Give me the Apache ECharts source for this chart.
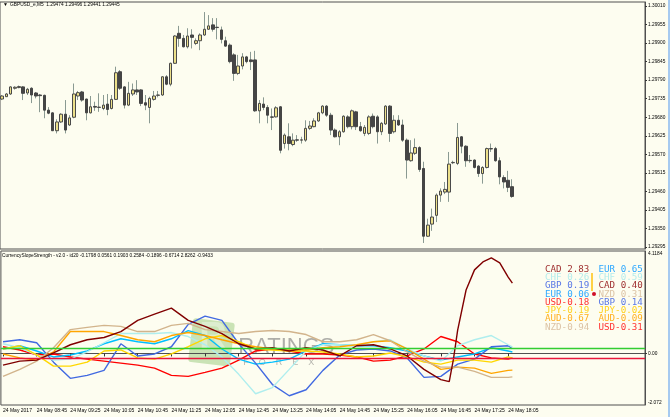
<!DOCTYPE html>
<html><head><meta charset="utf-8">
<script src="https://cdn.jsdelivr.net/npm/echarts@6/dist/echarts.min.js"></script>
<style>html,body{margin:0;padding:0;background:#fdfdf0;}#c{width:670px;height:417px;}</style>
</head><body><div id="c"></div>
<script>
const symbolName = 'GBPUSD_e,M5';
const open = [1.29734,1.29741,1.29749,1.29766,1.29768,1.29770,1.29752,1.29766,1.29752,1.29746,
1.29745,1.29701,1.29693,1.29640,1.29666,1.29689,1.29657,1.29680,1.29743,1.29755,
1.29734,1.29693,1.29712,1.29709,1.29706,1.29719,1.29706,1.29733,1.29815,1.29770,
1.29716,1.29749,1.29761,1.29761,1.29723,1.29709,1.29733,1.29745,1.29746,1.29800,
1.29778,1.29840,1.29929,1.29914,1.29889,1.29924,1.29899,1.29907,1.29924,1.29941,
1.29954,1.29947,1.29939,1.29907,1.29894,1.29865,1.29810,1.29832,1.29859,1.29850,
1.29850,1.29699,1.29719,1.29709,1.29681,1.29681,1.29711,1.29602,1.29622,1.29599,
1.29613,1.29612,1.29612,1.29647,1.29652,1.29669,1.29693,1.29713,1.29686,1.29642,
1.29622,1.29637,1.29681,1.29652,1.29696,1.29652,1.29632,1.29632,1.29683,1.29681,
1.29637,1.29660,1.29713,1.29637,1.29671,1.29657,1.29612,1.29551,1.29573,1.29590,
1.29528,1.29327,1.29363,1.29389,1.29449,1.29458,1.29458,1.29545,1.29543,1.29622,
1.29594,1.29551,1.29553,1.29535,1.29513,1.29531,1.29587,1.29587,1.29551,1.29501,
1.29493,1.29474];
const close = [1.29743,1.29749,1.29770,1.29769,1.29771,1.29751,1.29763,1.29746,1.29743,1.29744,
1.29701,1.29692,1.29640,1.29666,1.29689,1.29642,1.29678,1.29749,1.29753,1.29731,
1.29693,1.29711,1.29710,1.29710,1.29716,1.29703,1.29733,1.29812,1.29766,1.29716,
1.29751,1.29761,1.29755,1.29721,1.29716,1.29736,1.29743,1.29746,1.29800,1.29778,
1.29840,1.29921,1.29914,1.29889,1.29921,1.29917,1.29907,1.29924,1.29941,1.29951,
1.29941,1.29946,1.29911,1.29891,1.29845,1.29810,1.29832,1.29859,1.29845,1.29845,
1.29699,1.29721,1.29709,1.29686,1.29680,1.29708,1.29582,1.29627,1.29602,1.29612,
1.29612,1.29613,1.29647,1.29654,1.29669,1.29693,1.29713,1.29686,1.29642,1.29622,
1.29637,1.29683,1.29652,1.29699,1.29652,1.29640,1.29650,1.29681,1.29652,1.29637,
1.29662,1.29713,1.29632,1.29671,1.29657,1.29612,1.29553,1.29574,1.29590,1.29525,
1.29327,1.29360,1.29384,1.29449,1.29461,1.29466,1.29541,1.29546,1.29620,1.29594,
1.29551,1.29552,1.29531,1.29513,1.29531,1.29587,1.29586,1.29551,1.29503,1.29488,
1.29472,1.29445];
const low = [1.29731,1.29740,1.29746,1.29762,1.29766,1.29731,1.29746,1.29722,1.29736,1.29695,
1.29677,1.29689,1.29639,1.29632,1.29663,1.29632,1.29654,1.29677,1.29731,1.29726,
1.29671,1.29691,1.29699,1.29696,1.29701,1.29686,1.29703,1.29731,1.29761,1.29706,
1.29713,1.29743,1.29746,1.29713,1.29701,1.29662,1.29729,1.29739,1.29743,1.29775,
1.29772,1.29838,1.29889,1.29887,1.29884,1.29884,1.29894,1.29879,1.29921,1.29939,
1.29934,1.29911,1.29899,1.29889,1.29840,1.29788,1.29805,1.29822,1.29840,1.29820,
1.29696,1.29662,1.29701,1.29662,1.29642,1.29679,1.29573,1.29587,1.29582,1.29594,
1.29607,1.29602,1.29607,1.29642,1.29650,1.29666,1.29689,1.29681,1.29627,1.29620,
1.29597,1.29634,1.29647,1.29644,1.29642,1.29637,1.29624,1.29627,1.29647,1.29602,
1.29627,1.29657,1.29607,1.29632,1.29654,1.29607,1.29498,1.29548,1.29568,1.29518,
1.29307,1.29325,1.29343,1.29369,1.29429,1.29452,1.29429,1.29541,1.29538,1.29573,
1.29533,1.29545,1.29528,1.29503,1.29483,1.29528,1.29577,1.29548,1.29481,1.29469,
1.29458,1.29441];
const high = [1.29746,1.29752,1.29772,1.29772,1.29774,1.29772,1.29767,1.29769,1.29755,1.29749,
1.29747,1.29710,1.29695,1.29674,1.29692,1.29731,1.29686,1.29780,1.29758,1.29758,
1.29735,1.29743,1.29726,1.29751,1.29746,1.29749,1.29746,1.29830,1.29820,1.29772,
1.29785,1.29780,1.29790,1.29763,1.29746,1.29741,1.29758,1.29758,1.29802,1.29805,
1.29842,1.29924,1.29951,1.29924,1.29944,1.29941,1.29914,1.29929,1.29992,1.29983,
1.29974,1.29974,1.29949,1.29919,1.29899,1.29870,1.29865,1.29870,1.29862,1.29874,
1.29877,1.29731,1.29739,1.29716,1.29706,1.29713,1.29713,1.29632,1.29662,1.29632,
1.29627,1.29622,1.29671,1.29669,1.29677,1.29696,1.29716,1.29716,1.29693,1.29647,
1.29642,1.29686,1.29686,1.29703,1.29699,1.29666,1.29657,1.29686,1.29691,1.29686,
1.29666,1.29716,1.29716,1.29686,1.29686,1.29673,1.29617,1.29612,1.29617,1.29594,
1.29548,1.29379,1.29409,1.29454,1.29469,1.29488,1.29577,1.29551,1.29663,1.29624,
1.29597,1.29568,1.29555,1.29538,1.29535,1.29590,1.29602,1.29592,1.29561,1.29508,
1.29521,1.29496];

const slotCount = 153;
const xTickLabels = ['24 May 2017','24 May 08:45','24 May 09:25','24 May 10:05','24 May 10:45','24 May 11:25',
'24 May 12:05','24 May 12:45','24 May 13:25','24 May 14:05','24 May 14:45','24 May 15:25','24 May 16:05',
'24 May 16:45','24 May 17:25','24 May 18:05'];
const priceTicks = [1.29295,1.29350,1.29405,1.29460,1.29515,1.29570,1.29625,1.29680,1.29735,1.29790,1.29845,1.29900,1.29955,1.30010];
const lastPrice = 1.29445;

const cssIdx = [0,4,8,12,16,20,24,28,32,36,40,44,48,52,56,60,64,68,72,76,80,84,88,92,96,100,104,108,112,116,120,121];
const cssUSD = [0.27,0.14,-0.06,-0.02,-0.14,-0.23,-0.31,-0.39,-0.47,-0.59,-0.88,-0.92,-0.76,-0.59,-0.27,0.10,0.18,0.10,-0.02,-0.02,-0.06,-0.14,-0.31,-0.27,-0.10,0.18,0.68,0.47,-0.02,-0.18,-0.23,-0.18];
const cssEUR = [0.18,0.31,0.10,-0.14,-0.06,0.10,0.39,0.59,0.47,0.39,0.59,0.92,0.72,0.18,-0.23,-0.43,-0.35,-0.23,0.10,0.39,0.35,0.31,0.31,0.23,0.10,-0.10,-0.27,-0.14,-0.02,0.23,0.10,0.06];
const cssGBP = [0.47,0.55,0.43,-0.35,-1.0,-0.88,-0.68,0.39,-0.10,-0.02,0.27,1.17,1.50,1.33,0.39,-0.39,-1.25,-1.70,-1.46,-0.68,-0.06,0.14,0.18,0.10,-0.18,-0.96,-0.92,-0.43,-0.23,0.27,0.31,0.19];
const cssCHF = [0.39,0.23,-0.06,-0.27,-0.23,0.06,0.43,0.80,0.80,0.80,0.84,0.68,0.35,-0.14,-0.84,-1.62,-1.37,-0.64,0.10,0.35,0.35,0.31,0.47,0.55,0.18,-0.10,-0.31,0.31,0.55,0.72,0.35,0.26];
const cssJPY = [0.18,0.31,-0.06,-0.51,-0.51,-0.35,0.10,0.14,-0.18,-0.23,-0.02,0.27,0.59,0.72,0.47,0.18,0.14,0.10,0.10,0.06,-0.02,-0.14,-0.10,0.02,-0.14,-0.35,-0.43,-0.27,-0.27,-0.35,-0.14,-0.19];
const cssAUD = [-0.02,-0.18,-0.27,0.06,0.88,0.88,0.88,0.72,0.55,0.47,0.72,0.84,0.72,0.55,0.39,0.27,0.18,0.18,0.14,0.23,0.27,0.35,0.47,0.51,0.18,-0.23,-0.64,-0.55,-0.59,-0.80,-0.68,-0.67];
const cssNZD = [-0.92,-0.64,-0.31,0.23,0.96,1.05,1.13,1.09,0.88,0.88,1.13,1.21,0.96,0.88,0.80,0.88,0.92,0.88,0.76,0.47,0.47,0.55,0.76,0.51,0.06,-0.31,-0.55,-0.55,-0.72,-0.96,-0.96,-0.94];
const cadIdx = [0,4,8,12,16,20,24,28,32,36,40,44,48,52,56,60,64,68,72,76,80,84,88,92,96,100,104,106,107,108,110,112,114,116,118,120,121];
const cssCAD = [-0.47,-0.31,-0.27,0.02,0.35,0.55,0.64,0.88,1.33,1.58,1.82,1.33,1.09,0.80,0.39,0.18,0.23,0.10,0.23,0.14,-0.10,0.31,0.35,0.18,-0.10,-0.64,-1.05,-1.13,-0.23,0.94,2.55,3.36,3.68,3.84,3.64,3.07,2.83];
const cssLevels = [0.2, -0.2];
const cssMax = 4.1184, cssMin = -2.072;
const cssHeaderVals = ['-0.1798','0.0561','0.1903','0.2584','-0.1896','-0.6714','2.8262','-0.9433'];
const col1Names = ['CAD','CHF','GBP','EUR','USD','JPY','AUD','NZD'];
const col1Vals = [2.83,0.26,0.19,0.06,-0.18,-0.19,-0.67,-0.94];
const col2Names = ['EUR','CHF','CAD','NZD','GBP','JPY','AUD','USD'];
const col2Vals = [0.65,0.59,0.40,0.31,0.14,-0.02,-0.09,-0.31];

const cColor = {USD:'#ff0000',EUR:'#00bfff',GBP:'#4169e1',CHF:'#afeeee',JPY:'#ffd700',AUD:'#ffa500',CAD:'#800000',NZD:'#d2b48c'};
const textColor = {USD:'#ff3333',EUR:'#2ea8ff',GBP:'#5a78e6',CHF:'#b4ecec',JPY:'#ffd21e',AUD:'#ffb020',CAD:'#a03232',NZD:'#dcc3a5'};
const cream = '#fdfdf0';
const frame = '#505050';

const slots = Array.from({length: slotCount}, (_, i) => String(i));
const ohlcWick = open.map((o, i) => [o, close[i], low[i], high[i]]);
const ohlcBody = open.map((o, i) => [o, close[i], Math.min(o, close[i]), Math.max(o, close[i])]);
const pxPrice = 0.00055 / 18.54;
const priceMax = 1.30010 + 4 * pxPrice;
const priceMin = 1.30010 - 243 * pxPrice;
const isLabelSlot = (i) => i % 8 === 0 && i <= 121;

const lineSeries = (name, idx, vals) => ({
  type: 'line', name, xAxisIndex: 1, yAxisIndex: 1,
  data: idx.map((x, k) => [x, vals[k]]),
  showSymbol: false, symbol: 'none', smooth: false,
  lineStyle: {color: cColor[name], width: 1.4}, itemStyle: {color: cColor[name]},
  silent: true, z: 3
});

const monoFont = '"DejaVu Sans Mono", monospace';
const fmt = (v) => (v < 0 ? '-' : ' ') + Math.abs(v).toFixed(2);
const tableGraphics = [];
col1Names.forEach((n, k) => {
  tableGraphics.push({type:'text', left: 545, top: 265 + k*8.25, style:{text: n + fmt(col1Vals[k]), fill: textColor[n], font: '9.2px ' + monoFont}});
});
col2Names.forEach((n, k) => {
  tableGraphics.push({type:'text', left: 598.5, top: 265 + k*8.25, style:{text: n + fmt(col2Vals[k]), fill: textColor[n], font: '9.2px ' + monoFont}});
});

const chart = echarts.init(document.getElementById('c'), null, {renderer: 'canvas'});
chart.setOption({
  animation: false,
  backgroundColor: cream,
  grid: [
    {left: 0, top: 2, width: 645, height: 247, show: true, borderColor: frame, borderWidth: 1, backgroundColor: cream},
    {left: 0, top: 251, width: 645, height: 154, show: true, borderColor: frame, borderWidth: 1, backgroundColor: cream}
  ],
  xAxis: [
    {type: 'category', gridIndex: 0, data: slots, boundaryGap: true, axisLine: {show: false}, axisTick: {show: false}, axisLabel: {show: false}, splitLine: {show: false}},
    {type: 'category', gridIndex: 1, data: slots, boundaryGap: true,
     axisLine: {show: true, lineStyle: {color: frame}},
     axisTick: {show: true, alignWithLabel: true, interval: (i) => isLabelSlot(i), length: 3, lineStyle: {color: '#333'}},
     axisLabel: {show: true, interval: (i) => isLabelSlot(i), formatter: (v, i) => xTickLabels[i / 8] || '', align: 'left', margin: 3, fontSize: 5, fontFamily: 'Liberation Sans', color: '#000', hideOverlap: false},
     splitLine: {show: false}}
  ],
  yAxis: [
    {type: 'value', gridIndex: 0, position: 'right', min: priceMin, max: priceMax, scale: true,
     axisLine: {show: true, lineStyle: {color: frame}},
     axisTick: {show: true, customValues: priceTicks, length: 2, inside: false, lineStyle: {color: '#333'}},
     axisLabel: {show: true, customValues: priceTicks, formatter: (v) => v.toFixed(5), fontSize: 4.8, fontFamily: 'Liberation Sans', color: '#000', margin: 3},
     splitLine: {show: false}},
    {type: 'value', gridIndex: 1, position: 'right', min: cssMin, max: cssMax,
     axisLine: {show: true, lineStyle: {color: frame}},
     axisTick: {show: true, customValues: [0], length: 2, lineStyle: {color: '#333'}},
     axisLabel: {show: true, customValues: [cssMin, 0, cssMax], formatter: (v) => v === 0 ? '0.00' : String(v), fontSize: 4.8, fontFamily: 'Liberation Sans', color: '#000', margin: 3,
       verticalAlignMaxLabel: 'top', verticalAlignMinLabel: 'bottom'},
     splitLine: {show: false}}
  ],
  series: [
    {type: 'candlestick', name: 'wick', xAxisIndex: 0, yAxisIndex: 0, data: ohlcWick, barWidth: 1,
     itemStyle: {color: '#8a9a92', color0: '#8a9a92', borderColor: '#8a9a92', borderColor0: '#8a9a92', borderWidth: 1},
     silent: true, z: 2,
     markLine: {silent: true, symbol: 'none', data: [{yAxis: lastPrice}],
       lineStyle: {color: '#c8c8c0', width: 1, type: 'solid'},
       label: {show: true, position: 'end', formatter: () => lastPrice.toFixed(5), color: '#fff', backgroundColor: '#000', padding: [1.5, 2], fontSize: 4.8, fontFamily: 'Liberation Sans', distance: 1}}},
    {type: 'candlestick', name: 'body', xAxisIndex: 0, yAxisIndex: 0, data: ohlcBody, barWidth: 3,
     itemStyle: {color: '#ece08a', color0: '#454545', borderColor: '#4a4a4a', borderColor0: '#454545', borderWidth: 1},
     silent: true, z: 3},
    {type: 'line', name: 'levels', xAxisIndex: 1, yAxisIndex: 1, data: [], z: 2,
     markLine: {silent: true, symbol: 'none', label: {show: false},
       data: [{yAxis: cssLevels[0], lineStyle: {color: '#32cd32', width: 1.3, type: 'solid'}},
              {yAxis: cssLevels[1], lineStyle: {color: '#e8173c', width: 1.3, type: 'solid'}}]}},
    lineSeries('USD', cssIdx, cssUSD),
    lineSeries('EUR', cssIdx, cssEUR),
    lineSeries('GBP', cssIdx, cssGBP),
    lineSeries('CHF', cssIdx, cssCHF),
    lineSeries('JPY', cssIdx, cssJPY),
    lineSeries('AUD', cssIdx, cssAUD),
    lineSeries('NZD', cssIdx, cssNZD),
    lineSeries('CAD', cadIdx, cssCAD)
  ],
  graphic: [
    {type: 'group', left: 188, top: 318, silent: true, children: [
      {type: 'rect', shape: {x: 0, y: 0, width: 42, height: 44, r: 3}, rotation: -0.12, style: {fill: 'rgba(130,190,100,0.42)'}},
      {type: 'text', x: 6, y: 2, style: {text: 'R', font: 'bold 38px "Liberation Sans"', fill: 'rgba(255,255,255,0.35)'}},
      {type: 'text', x: 45, y: 18, style: {text: 'RATINGS', font: '22px "Liberation Sans"', fill: 'rgba(110,110,110,0.55)'}},
      {type: 'text', x: 50, y: 40, style: {text: 'F    O    R    E    X', font: '9px "Liberation Sans"', fill: 'rgba(110,110,110,0.5)'}}
    ]},
    {type: 'text', left: 3, top: 2, style: {text: '\u25BC', font: '5px "Liberation Sans"', fill: '#000'}},
    {type: 'text', left: 10, top: 2, style: {text: symbolName + '  ' + [open[121], high[121], low[121], close[121]].map(v => v.toFixed(5)).join(' '), font: '4.8px "Liberation Sans"', fill: '#000'}},
    {type: 'text', left: 2, top: 253, style: {text: 'CurrencySlopeStrength - v2.0 - id20 ' + cssHeaderVals.join(' '), font: '4.8px "Liberation Sans"', fill: '#000'}},
    ...tableGraphics,
    {type: 'line', shape: {x1: 592, y1: 273, x2: 592, y2: 291}, style: {stroke: '#ffc20e', lineWidth: 1.5}},
    {type: 'circle', shape: {cx: 594, cy: 294, r: 2}, style: {fill: '#d0102a'}},
    {type: 'rect', shape: {x: 668, y: 0, width: 2, height: 417}, style: {fill: '#a6caf0'}}
  ]
});
</script></body></html>
